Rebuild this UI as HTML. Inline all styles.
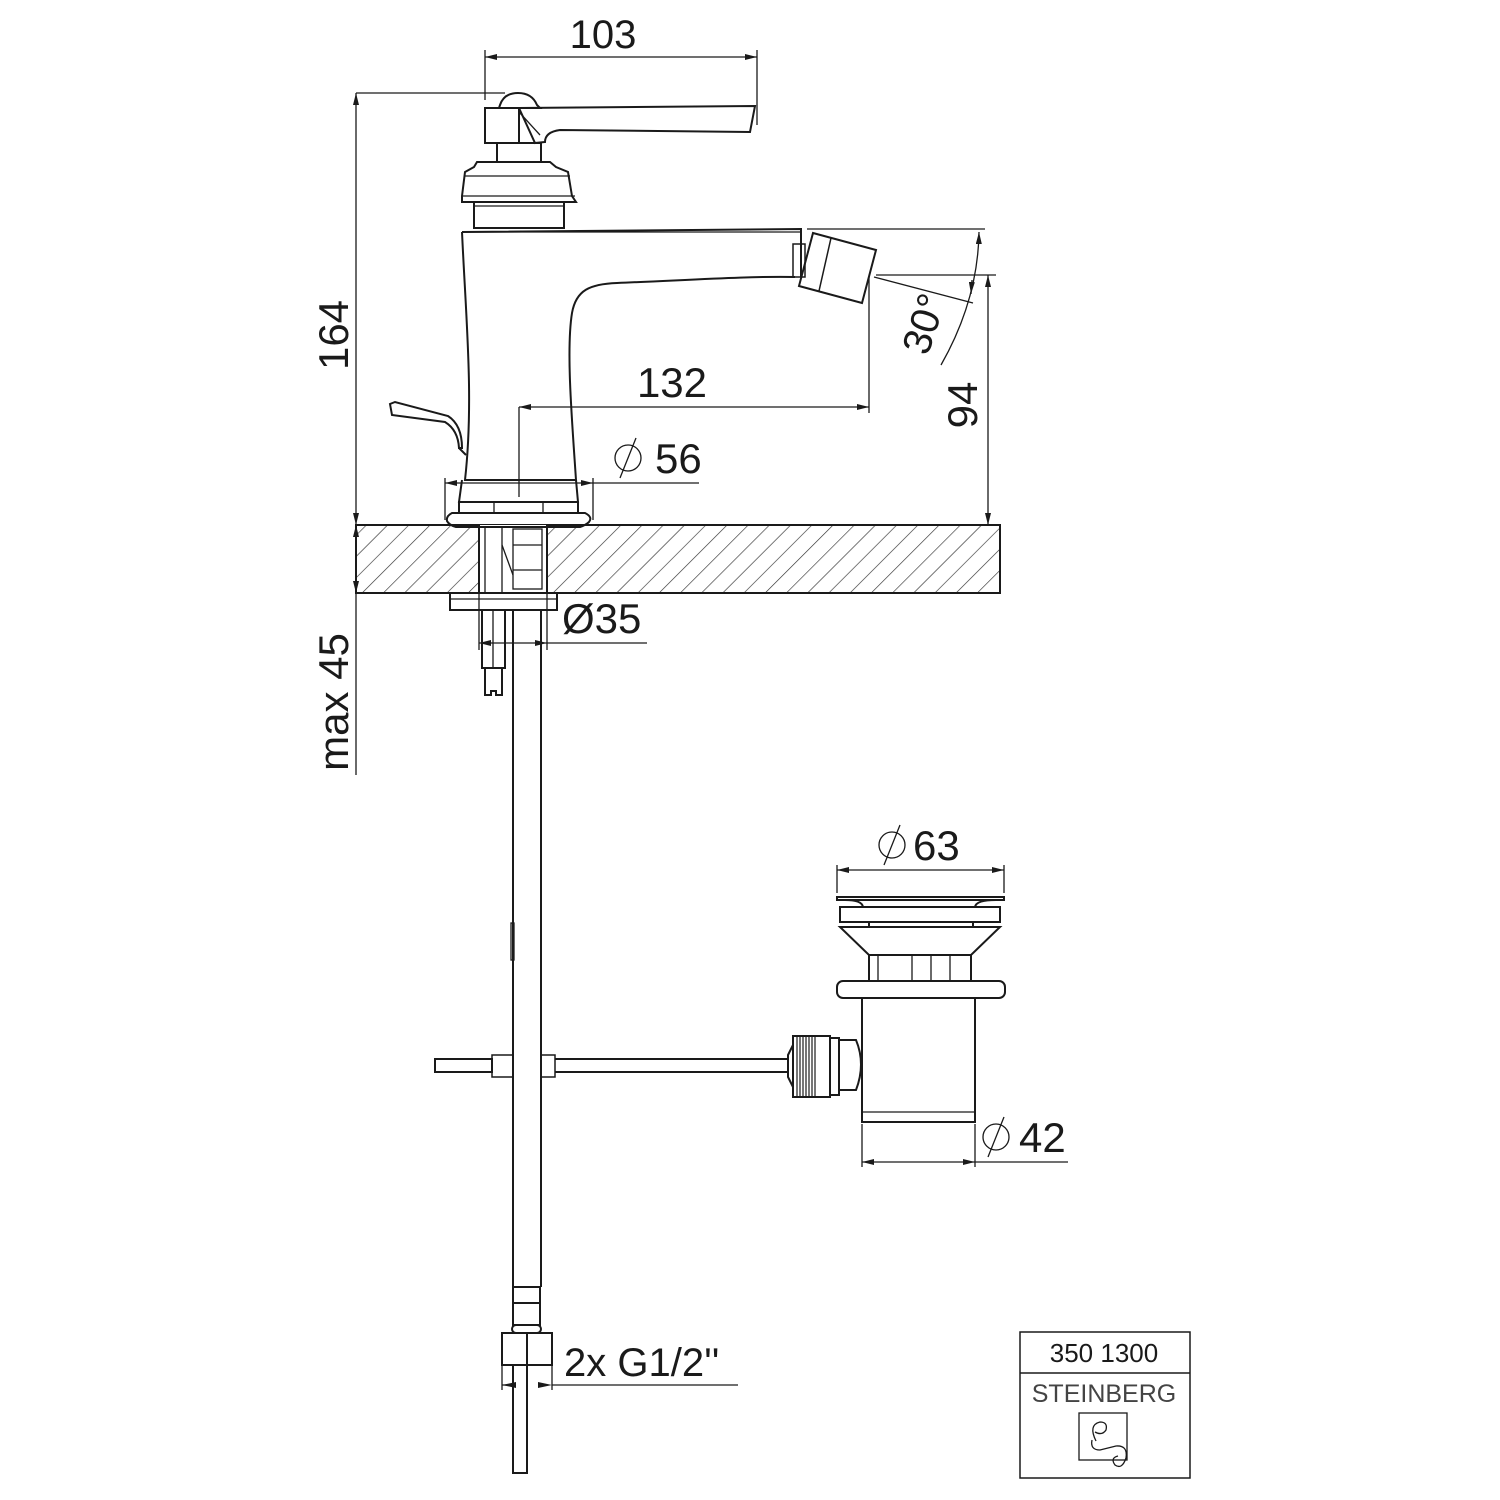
<!DOCTYPE html>
<html><head><meta charset="utf-8"><style>html,body{margin:0;padding:0;background:#fff}svg{display:block}</style></head>
<body>
<svg width="1500" height="1500" viewBox="0 0 1500 1500" xmlns="http://www.w3.org/2000/svg" font-family="Liberation Sans, sans-serif" fill="none" stroke="#1a1a1a" stroke-width="2">
<defs>
<pattern id="h" patternUnits="userSpaceOnUse" width="15" height="15" patternTransform="rotate(45)">
<line x1="0" y1="0" x2="0" y2="15" stroke="#333" stroke-width="1.3"/>
</pattern>
<marker id="a" viewBox="0 0 12 6" refX="12" refY="3" markerWidth="12" markerHeight="6" orient="auto-start-reverse" markerUnits="userSpaceOnUse"><path d="M0,0 L12,3 L0,6 Z" fill="#1a1a1a" stroke="none"/></marker>
</defs>

<!-- counter -->
<rect x="356" y="525" width="123" height="68" fill="url(#h)"/>
<rect x="547" y="525" width="453" height="68" fill="url(#h)"/>
<rect x="356" y="525" width="644" height="68"/>
<rect x="479" y="525" width="68" height="68" fill="#fff" stroke="none"/>
<line x1="479" y1="525" x2="479" y2="593"/><line x1="547" y1="525" x2="547" y2="593"/>
<line x1="485" y1="527" x2="485" y2="593" stroke-width="1.3"/><line x1="502" y1="527" x2="502" y2="593" stroke-width="1.3"/>
<rect x="513" y="529" width="29" height="60" stroke-width="1.3"/>
<line x1="513" y1="545" x2="542" y2="545" stroke-width="1.3"/><line x1="513" y1="570" x2="542" y2="570" stroke-width="1.3"/>
<line x1="502" y1="545" x2="513" y2="575" stroke-width="1.3"/>

<!-- washer and studs -->
<rect x="450" y="593" width="107" height="17"/>
<line x1="450" y1="599" x2="557" y2="599" stroke-width="1.3"/>
<rect x="482" y="610" width="23" height="58"/><line x1="493" y1="610" x2="493" y2="668" stroke-width="1.3"/>
<path d="M485,668 V695 H491 V691 H496 V695 H502 V668"/>
<!-- hoses -->
<line x1="513" y1="610" x2="513" y2="1287"/><line x1="541" y1="610" x2="541" y2="1287"/>
<rect x="511" y="923" width="3" height="37" stroke-width="1.3"/>
<rect x="513" y="1287" width="27" height="16"/><rect x="513" y="1303" width="27" height="22"/>
<rect x="512" y="1325" width="29" height="8" rx="4"/>
<rect x="502" y="1333" width="50" height="32"/><line x1="527" y1="1333" x2="527" y2="1365"/>
<rect x="513" y="1365" width="14" height="108"/>

<!-- faucet body -->
<path d="M462,232 L801,229 L801,236 M462,232 C466,320 474,400 465,480 L576,480 C572,420 566,350 572,313 C576,290 590,284 617,283 C690,280 750,276 795,277" />
<path d="M466,232 L801,232" stroke-width="1.3"/>
<path d="M801,236 L801,277" />
<rect x="793" y="244" width="12" height="33" stroke-width="1.5"/>
<path d="M813,233 L876,250 L862,303 L799,286 Z"/>
<line x1="831" y1="238" x2="819" y2="291" stroke-width="1.5"/>
<!-- base -->
<rect x="459" y="480" width="119" height="2" stroke="none"/>
<path d="M462,480 L459,502 H578 L576,480"/>
<rect x="459" y="502" width="119" height="11"/>
<line x1="494" y1="502" x2="494" y2="513" stroke-width="1.3"/><line x1="543" y1="502" x2="543" y2="513" stroke-width="1.3"/>
<path d="M452,513 H585 Q593,517 589,522 Q586,525 580,527 H456 Q449,525 447,521 Q446,516 452,513 Z"/>
<!-- pop-up lever -->
<path d="M390,404 L392,415 L445,422 Q458,430 459,448 L462,448 Q462,425 448,416 L395,402 Z"/>
<path d="M459,448 L466,455"/>
<!-- ring and cap -->
<rect x="474" y="202" width="90" height="26"/>
<line x1="474" y1="206" x2="564" y2="206" stroke-width="1.3"/>
<path d="M462,202 L462,196 L465,172 L474,167 L477,162 H550 L556,167 L568,172 L572,196 L576,202 Z"/>
<line x1="465" y1="176" x2="570" y2="176" stroke-width="1.3"/>
<line x1="462" y1="196" x2="575" y2="196" stroke-width="1.3"/>
<rect x="497" y="143" width="44" height="19"/>
<!-- handle -->
<path d="M485,108 L485,143 H519 L519,108 Z"/>
<path d="M519,108 L755,106 L750,132 L560,130 Q545,132 545,142 L535,143 Z"/>
<path d="M519,112 L540,135" stroke-width="1.3"/>
<path d="M500,105 Q504,93 518,93 Q532,93 537,105 L540,108 L499,108 Z"/>

<!-- dimension 103 -->
<line x1="485" y1="50" x2="485" y2="100" stroke-width="1.3"/><line x1="757" y1="50" x2="757" y2="125" stroke-width="1.3"/>
<line x1="485" y1="57" x2="757" y2="57" stroke-width="1.3" marker-start="url(#a)" marker-end="url(#a)"/>
<text x="603" y="48" font-size="40" fill="#1a1a1a" stroke="none" text-anchor="middle">103</text>
<!-- 164 -->
<line x1="356" y1="93" x2="505" y2="93" stroke-width="1.3"/>
<line x1="356" y1="93" x2="356" y2="525" stroke-width="1.3" marker-start="url(#a)" marker-end="url(#a)"/>
<line x1="356" y1="525" x2="356" y2="593" stroke-width="1.3" marker-start="url(#a)" marker-end="url(#a)"/>
<line x1="356" y1="593" x2="356" y2="775" stroke-width="1.3"/>
<text transform="translate(348,335) rotate(-90)" font-size="42" fill="#1a1a1a" stroke="none" text-anchor="middle">164</text>
<text transform="translate(348,702) rotate(-90)" font-size="42" fill="#1a1a1a" stroke="none" text-anchor="middle">max 45</text>
<!-- 132 -->
<line x1="519" y1="407" x2="519" y2="497" stroke-width="1.3"/>
<line x1="869" y1="277" x2="869" y2="413" stroke-width="1.3"/>
<line x1="519" y1="407" x2="869" y2="407" stroke-width="1.3" marker-start="url(#a)" marker-end="url(#a)"/>
<text x="672" y="397" font-size="42" fill="#1a1a1a" stroke="none" text-anchor="middle">132</text>
<!-- ø56 -->
<line x1="445" y1="478" x2="445" y2="520" stroke-width="1.3"/><line x1="593" y1="478" x2="593" y2="520" stroke-width="1.3"/>
<line x1="445" y1="483" x2="593" y2="483" stroke-width="1.3" marker-start="url(#a)" marker-end="url(#a)"/>
<line x1="593" y1="483" x2="699" y2="483" stroke-width="1.3"/>
<circle cx="628" cy="458" r="13" stroke-width="1.3"/><line x1="620" y1="478" x2="636" y2="438" stroke-width="1.3"/>
<text x="655" y="473" font-size="42" fill="#1a1a1a" stroke="none">56</text>
<!-- 94 and 30° -->
<line x1="807" y1="229" x2="985" y2="229" stroke-width="1.3"/>
<line x1="876" y1="275" x2="996" y2="275" stroke-width="1.3"/>
<line x1="988" y1="275" x2="988" y2="525" stroke-width="1.3" marker-start="url(#a)" marker-end="url(#a)"/>
<text transform="translate(977,405) rotate(-90)" font-size="42" fill="#1a1a1a" stroke="none" text-anchor="middle">94</text>
<line x1="874" y1="277" x2="973" y2="303" stroke-width="1.3"/>
<path d="M979,232 Q978,300 941,365" stroke-width="1.3" marker-start="url(#a)"/>
<line x1="972" y1="280" x2="971" y2="294" stroke-width="1.3" marker-end="url(#a)"/>
<text transform="translate(937,328) rotate(-72)" font-size="40" fill="#1a1a1a" stroke="none" text-anchor="middle">30°</text>
<!-- ø35 -->
<line x1="479" y1="593" x2="479" y2="650" stroke-width="1.3"/><line x1="547" y1="593" x2="547" y2="650" stroke-width="1.3"/>
<line x1="479" y1="643" x2="647" y2="643" stroke-width="1.3"/>
<path d="M479,643 l12,-3 v6 z M547,643 l-12,-3 v6 z" fill="#1a1a1a" stroke="none"/>
<text x="562" y="633" font-size="42" fill="#1a1a1a" stroke="none">Ø35</text>

<!-- waste rod -->
<rect x="435" y="1059" width="57" height="13"/>
<path d="M492,1055 H513 V1077 H492 Z" stroke-width="1.5"/>
<path d="M541,1055 H555 V1077 H541 Z" stroke-width="1.5"/>
<line x1="555" y1="1059" x2="788" y2="1059"/><line x1="555" y1="1072" x2="788" y2="1072"/>
<path d="M788,1055 L793,1045 V1087 L788,1077 Z"/>
<rect x="793" y="1036" width="37" height="61" fill="#fff"/>
<g stroke-width="1.2"><line x1="797" y1="1036" x2="797" y2="1097"/><line x1="800" y1="1036" x2="800" y2="1097"/><line x1="803" y1="1036" x2="803" y2="1097"/><line x1="806" y1="1036" x2="806" y2="1097"/><line x1="809" y1="1036" x2="809" y2="1097"/><line x1="812" y1="1036" x2="812" y2="1097"/><line x1="815" y1="1036" x2="815" y2="1097"/></g>
<rect x="830" y="1038" width="9" height="57"/>
<path d="M839,1040 H856 Q866,1064 856,1090 H839 Z"/>
<!-- waste -->
<path d="M837,897 H1004 V900 H837 Z"/>
<path d="M845,900 Q862,900 863,907 M996,900 Q976,900 975,907"/>
<rect x="840" y="907" width="160" height="15"/>
<rect x="869" y="922" width="104" height="5"/>
<path d="M840,927 H1000 L971,955 H869 Z"/>
<rect x="869" y="955" width="102" height="26"/>
<line x1="878" y1="955" x2="878" y2="981" stroke-width="1.3"/><line x1="912" y1="955" x2="912" y2="981" stroke-width="1.3"/><line x1="931" y1="955" x2="931" y2="981" stroke-width="1.3"/><line x1="950" y1="955" x2="950" y2="981" stroke-width="1.3"/>
<rect x="837" y="981" width="168" height="17" rx="6"/>
<path d="M862,998 V1122 H975 V998"/>
<line x1="862" y1="1112" x2="975" y2="1112" stroke-width="1.3"/>
<!-- ø63 -->
<line x1="837" y1="865" x2="837" y2="893" stroke-width="1.3"/><line x1="1004" y1="865" x2="1004" y2="893" stroke-width="1.3"/>
<line x1="837" y1="870" x2="1004" y2="870" stroke-width="1.3" marker-start="url(#a)" marker-end="url(#a)"/>
<circle cx="892" cy="845" r="13" stroke-width="1.3"/><line x1="884" y1="865" x2="900" y2="825" stroke-width="1.3"/>
<text x="913" y="860" font-size="42" fill="#1a1a1a" stroke="none">63</text>
<!-- ø42 -->
<line x1="862" y1="1124" x2="862" y2="1167" stroke-width="1.3"/><line x1="975" y1="1124" x2="975" y2="1167" stroke-width="1.3"/>
<line x1="862" y1="1162" x2="975" y2="1162" stroke-width="1.3" marker-start="url(#a)" marker-end="url(#a)"/>
<line x1="975" y1="1162" x2="1068" y2="1162" stroke-width="1.3"/>
<circle cx="996" cy="1137" r="13" stroke-width="1.3"/><line x1="988" y1="1157" x2="1004" y2="1117" stroke-width="1.3"/>
<text x="1019" y="1152" font-size="42" fill="#1a1a1a" stroke="none">42</text>
<!-- G1/2 -->
<line x1="502" y1="1365" x2="502" y2="1390" stroke-width="1.3"/><line x1="552" y1="1365" x2="552" y2="1390" stroke-width="1.3"/>
<line x1="738" y1="1385" x2="552" y2="1385" stroke-width="1.3"/>
<path d="M502,1385 l14,-3 v6 z M552,1385 l-14,-3 v6 z" fill="#1a1a1a" stroke="none"/>
<line x1="502" y1="1385" x2="516" y2="1385" stroke-width="1.3"/>
<text x="564" y="1376" font-size="40" fill="#1a1a1a" stroke="none">2x G1/2''</text>

<!-- title block -->
<rect x="1020" y="1332" width="170" height="146" stroke-width="1.5"/>
<line x1="1020" y1="1373" x2="1190" y2="1373" stroke-width="1.5"/>
<text x="1104" y="1362" font-size="26" fill="#1a1a1a" stroke="none" text-anchor="middle">350 1300</text>
<text x="1104" y="1402" font-size="25" fill="#444" stroke="none" text-anchor="middle" font-weight="300">STEINBERG</text>
<rect x="1079" y="1413" width="48" height="47" stroke-width="1.3"/>
<path d="M1096,1441 Q1088,1425 1100,1422 Q1108,1422 1106,1430 Q1102,1436 1095,1432 M1092,1440 Q1090,1450 1100,1450 Q1108,1448 1116,1446 Q1128,1445 1126,1458 Q1122,1470 1115,1465 Q1110,1458 1118,1456" stroke-width="1.3"/>
</svg>
</body></html>
